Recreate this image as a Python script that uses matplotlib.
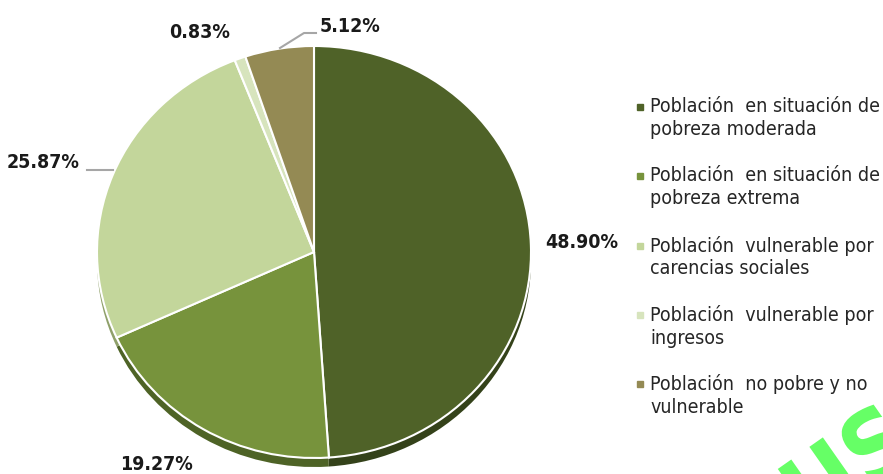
import matplotlib.pyplot as plt
import matplotlib.patheffects as pe
from matplotlib.lines import Line2D
from matplotlib.patches import Rectangle

# datos
categorias = ['Población  en situación de\npobreza moderada',
              'Población  en situación de\npobreza extrema',
              'Población  vulnerable por\ncarencias sociales',
              'Población  vulnerable por\ningresos',
              'Población  no pobre y no\nvulnerable']
porcentajes = [48.90, 19.27, 25.87, 0.83, 5.12]
etiquetas = ['48.90%', '19.27%', '25.87%', '0.83%', '5.12%']
colores = ['#4F6228', '#77933C', '#C3D69B', '#D7E4BD', '#948A54']
sombras = ['#34421A', '#4E6326', '#8FA06A', '#A3B08A', '#6A6238']

W, H = 883, 474
plt.rcParams['font.family'] = ['DejaVu Sans']
plt.rcParams['font.stretch'] = 'condensed'

fig = plt.figure(figsize=(W / 100, H / 100), dpi=100)

def fx(x):
    return x / W

def fy(y):
    return 1 - y / H

# pastel: cara de 97..531 px en x, 46..458 px en y
ry = 206.0
ax = fig.add_axes([fx(97), fy(474), 434 / W, (474 - 46) / H])

# sombra (efecto 3D)
ax.pie(porcentajes, colors=sombras, startangle=90, counterclock=False,
       center=(0, -9 / ry), radius=1, frame=True,
       wedgeprops=dict(linewidth=0))
ax.pie(porcentajes, colors=colores, startangle=90, counterclock=False,
       radius=1, frame=True,
       wedgeprops=dict(edgecolor='white', linewidth=1.5))
ax.set_aspect('auto')
ax.set_xlim(-1, 1)
ax.set_ylim(-1 - 16 / ry, 1)
ax.axis('off')

# etiquetas de porcentaje
pos_etq = [(545, 243, 'left'), (120, 464, 'left'), (80, 162, 'right'),
           (230, 33, 'right'), (320, 27, 'left')]
for (x, y, ha), t in zip(pos_etq, etiquetas):
    fig.text(fx(x), fy(y), t, ha=ha, va='center', fontsize=14,
             fontweight='bold', color='#1a1a1a')

# lineas guia
gris = '#A6A6A6'
fig.add_artist(Line2D([fx(87), fx(113)], [fy(170), fy(170)], color=gris, lw=1.5))
fig.add_artist(Line2D([fx(280), fx(304), fx(316)], [fy(48), fy(33), fy(33)],
                      color=gris, lw=1.5))

# leyenda
for i, (lab, c) in enumerate(zip(categorias, colores)):
    y0 = 107 + i * 69.3
    fig.add_artist(Rectangle((fx(637), fy(y0 + 3)), 6 / W, 6 / H, color=c))
    fig.text(fx(650), fy(y0 - 10), lab, ha='left', va='top', fontsize=14,
             color='#262626', linespacing=1.25)

# marca de agua
fig.text(fx(770), fy(548), 'US', rotation=35, fontsize=70, fontweight='bold',
         color='#66FF66', ha='left', va='bottom',
         path_effects=[pe.withStroke(linewidth=3, foreground='white')])

fig.savefig('out.png', dpi=100)
